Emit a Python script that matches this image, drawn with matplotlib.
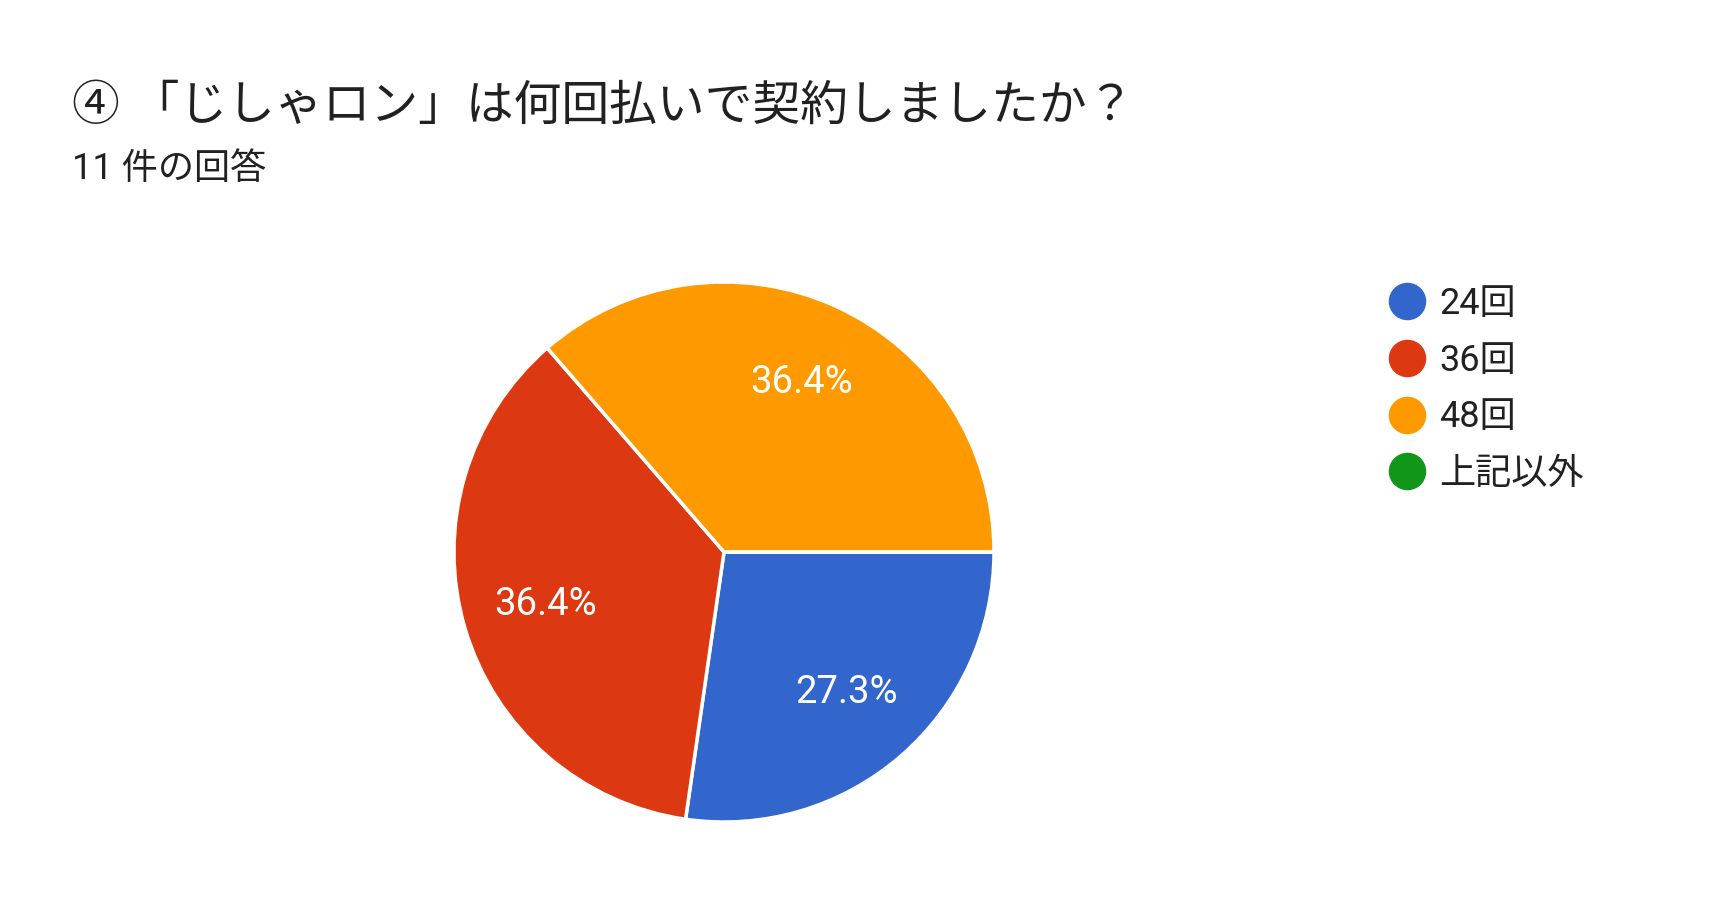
import matplotlib.pyplot as plt
from matplotlib.lines import Line2D

title='④ 「じしゃロン」は何回払いで契約しましたか？'
subtitle='11 件の回答'
labels=['24回','36回','48回','上記以外']
counts=[3,4,4,0]
colors=['#3366CC','#DC3912','#FF9900','#109618']

plt.rcParams['font.family']=['Roboto','Noto Sans CJK JP','DejaVu Sans']
W,H=1720,922
fig=plt.figure(figsize=(W/100,H/100),dpi=100)
fig.patch.set_facecolor('white')

fig.text(72/W,1-107/H,title,fontsize=34.4,color='#212121',va='center',ha='left')
fig.text(72/W,1-169/H,subtitle,fontsize=26,color='#212121',va='center',ha='left')

cx,cy,r=724,552,270
ax=fig.add_axes([(cx-r)/W,1-(cy+r)/H,2*r/W,2*r/H])
def fmt(p):
	if p<0.05:
		return ''
	return '%.1f%%'%p
wedges,texts,autotexts=ax.pie(counts,colors=colors,startangle=0,counterclock=False,
	autopct=fmt,pctdistance=0.69,wedgeprops=dict(edgecolor='white',linewidth=2.5))
for t in autotexts:
	t.set_color('white')
	t.set_fontsize(27.5)
ax.set_xlim(-1,1)
ax.set_ylim(-1,1)
ax.set_aspect('equal')

handles=[Line2D([0],[0],marker='o',linestyle='none',markersize=26,markerfacecolor=c,markeredgecolor=c) for c in colors]
leg=fig.legend(handles,labels,loc='upper left',bbox_to_anchor=(1385/W,1-286/H),bbox_transform=fig.transFigure,
	frameon=False,fontsize=26,labelspacing=0.57,handletextpad=0.3,handlelength=1.2,borderpad=0,borderaxespad=0)
for t in leg.get_texts():
	t.set_color('#212121')

fig.savefig('out.png',dpi=100)
